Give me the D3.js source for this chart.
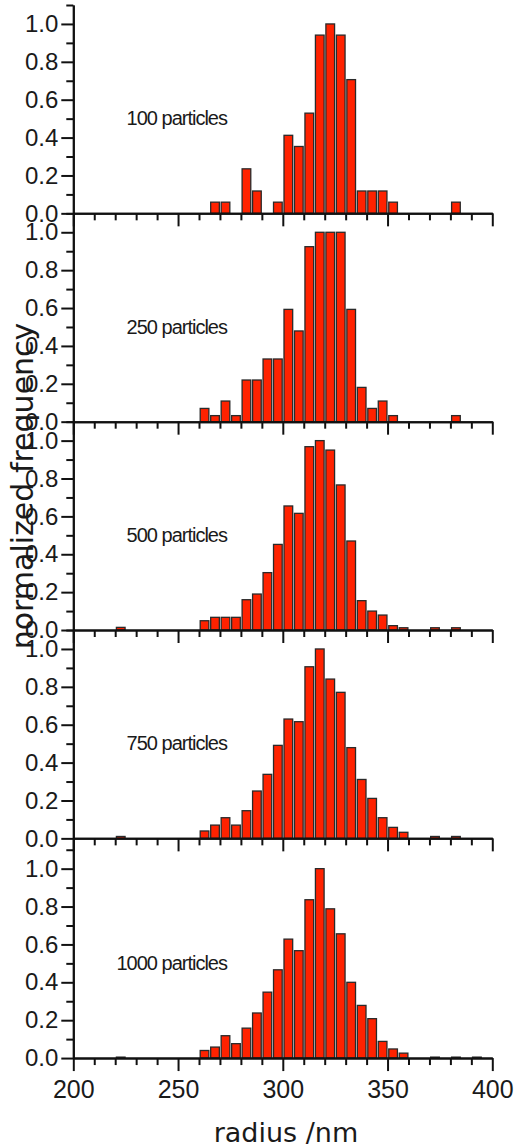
<!DOCTYPE html>
<html>
<head>
<meta charset="utf-8">
<script src="https://cdn.jsdelivr.net/npm/d3@7"></script>
<style>
  html, body { margin: 0; padding: 0; background: #fff; }
  svg { display: block; }
</style>
</head>
<body>
<svg id="chart"></svg>
<script>
/* ============================================================
   DATA  (normalized frequency per 5 nm radius bin)
   ============================================================ */
const BINS = [220,225,230,235,240,245,250,255,260,265,270,275,280,285,290,295,300,305,
              310,315,320,325,330,335,340,345,350,355,360,365,370,375,380,385,390];

const P100  = [0,0,0,0,0,0,0,0, 0,.059,.059,0,.235,.118,0,.059,.412,.353,
               .529,.941,1,.941,.706,.118,.118,.118,.059,0,0,0,0,0,.059,0,0];
const P250  = [0,0,0,0,0,0,0,0, .07,.032,.109,.032,.22,.22,.331,.331,.593,.479,
               .924,1,1,1,.593,.181,.07,.109,.032,0,0,0,0,0,.032,0,0];
const P500  = [.014,0,0,0,0,0,0,0, .049,.067,.067,.067,.16,.19,.303,.452,.655,.616,
               .968,1,.95,.766,.47,.155,.1,.079,.023,.012,0,0,.012,0,.012,0,0];
const P750  = [.01,0,0,0,0,0,0,0, .039,.07,.109,.07,.146,.25,.338,.491,.63,.616,
               .906,1,.841,.771,.479,.311,.211,.109,.058,.032,0,0,.01,0,.01,0,0];
const P1000 = [.005,0,0,0,0,0,0,0, .04,.058,.118,.076,.158,.238,.348,.466,.628,.567,
               .836,1,.788,.656,.40,.278,.208,.088,.048,.026,0,0,.005,0,.005,0,.005];

const SERIES = [P100, P250, P500, P750, P1000];
const PANEL_LABELS = ['100 particles', '250 particles', '500 particles', '750 particles', '1000 particles'];

const X_MAJOR = [200, 250, 300, 350, 400];
const X_MINOR = [210,220,230,240,260,270,280,290,310,320,330,340,360,370,380,390];
const Y_MAJOR = [0, 0.2, 0.4, 0.6, 0.8, 1.0];
const Y_MINOR = [0.1, 0.3, 0.5, 0.7, 0.9, 1.1];

/* ============================================================
   LAYOUT
   ============================================================ */
const W = 515, H = 1148;
const TOP = 5, UNIT = 189.4;              // px per 1.0 of frequency
const PANEL_YMAX = [1.1, 1.1, 1.1, 1.1, 1.16];
const LABEL_Y = 0.465;
const NUM_FONT = '"Liberation Sans", Arial, sans-serif';
const TITLE_FONT = '"DejaVu Sans", sans-serif';

const svg = d3.select('#chart').attr('width', W).attr('height', H);
const x = d3.scaleLinear().domain([200, 400]).range([73.3, 492.3]);
const bw = x(205) - x(200);

function styleAxis(g, size) {
  g.attr('font-family', NUM_FONT).attr('font-size', size || 10);
  g.select('.domain').attr('stroke', '#111').attr('stroke-width', 2);
  g.selectAll('.tick line').attr('stroke', '#111').attr('stroke-width', 2);
  g.selectAll('.tick text').attr('fill', '#1a1a1a');
}

/* ============================================================
   PANELS
   ============================================================ */
let panelTop = TOP;
SERIES.forEach((vals, i) => {
  const ymax = PANEL_YMAX[i];
  const bottom = panelTop + ymax * UNIT;
  const y = d3.scaleLinear().domain([0, ymax]).range([bottom, panelTop]);
  const last = i === SERIES.length - 1;
  const g = svg.append('g');

  g.selectAll('rect.bar')
    .data(BINS.map((b, j) => ({ b, v: vals[j] })).filter(d => d.v > 0))
    .join('rect').attr('class', 'bar')
    .attr('x', d => x(d.b) + 1.2).attr('width', bw - 1.8)
    .attr('y', d => y(d.v)).attr('height', d => y(0) - y(d.v))
    .attr('fill', '#ff2200').attr('stroke', '#2a2a2a').attr('stroke-width', 1.3);

  g.append('text')
    .attr('x', 227).attr('y', y(LABEL_Y))
    .attr('text-anchor', 'end')
    .attr('font-family', NUM_FONT).attr('font-size', 20)
    .attr('letter-spacing', '-1px').attr('fill', '#1a1a1a')
    .text(PANEL_LABELS[i]);

  // x axis (minor + major ticks, labels only on the bottom panel)
  g.append('g').attr('transform', `translate(0,${bottom})`)
    .call(d3.axisBottom(x).tickValues(X_MINOR).tickSize(7).tickSizeOuter(0).tickFormat(''))
    .call(styleAxis);
  g.append('g').attr('transform', `translate(0,${bottom})`)
    .call(d3.axisBottom(x).tickValues(X_MAJOR).tickSize(13).tickSizeOuter(0)
      .tickPadding(9).tickFormat(last ? d3.format('d') : ''))
    .call(styleAxis, 25);

  // y axis
  g.append('g').attr('transform', `translate(${x(200)},0)`)
    .call(d3.axisLeft(y).tickValues(Y_MINOR.filter(v => v <= ymax)).tickSize(7).tickSizeOuter(0).tickFormat(''))
    .call(styleAxis);
  g.append('g').attr('transform', `translate(${x(200)},0)`)
    .call(d3.axisLeft(y).tickValues(Y_MAJOR).tickSize(12).tickSizeOuter(0)
      .tickPadding(3).tickFormat(d3.format('.1f')))
    .call(styleAxis, 24);

  panelTop = bottom;
});

/* ============================================================
   AXIS TITLES
   ============================================================ */
svg.append('text')
  .attr('x', 286).attr('y', 1141.5)
  .attr('text-anchor', 'middle')
  .attr('font-family', TITLE_FONT).attr('font-size', 27).attr('fill', '#1a1a1a')
  .text('radius /nm');

svg.append('text')
  .attr('transform', 'translate(33,486) rotate(-90)')
  .attr('text-anchor', 'middle')
  .attr('font-family', TITLE_FONT).attr('font-size', 30).attr('fill', '#1a1a1a')
  .text('normalized frequency');
</script>
</body>
</html>
